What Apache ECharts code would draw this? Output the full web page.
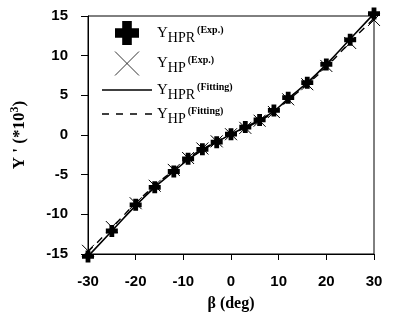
<!DOCTYPE html>
<html>
<head>
<meta charset="utf-8">
<script src="https://cdn.jsdelivr.net/npm/echarts@6/dist/echarts.min.js"></script>
<style>
  html, body { margin: 0; padding: 0; background: #fff; }
  #chart { width: 393px; height: 317px; }
</style>
</head>
<body>
<div id="chart"></div>
<script>
// beta (deg) where the samples were taken
var beta = [-30, -25, -20, -16, -12, -9, -6, -3, 0, 3, 6, 9, 12, 16, 20, 25, 30]
// Y' (*10^3)
var hprExp = [-15.3, -12.1, -8.8, -6.6, -4.6, -3.0, -1.8, -0.9, 0.1, 1.0, 1.9, 3.1, 4.7, 6.6, 8.9, 12.0, 15.3]
var hpExp = [-14.6, -11.6, -8.6, -6.4, -4.4, -2.9, -1.7, -0.8, 0.1, 0.9, 1.8, 2.9, 4.5, 6.4, 8.7, 11.6, 14.5]
var hprFit = [-15.3, -12.1, -8.9, -6.6, -4.6, -3.1, -1.9, -0.9, 0.1, 1.0, 1.9, 3.0, 4.6, 6.6, 8.9, 12.1, 15.3]
var hpFit = [-14.7, -11.7, -8.6, -6.4, -4.4, -2.9, -1.8, -0.8, 0.1, 0.9, 1.8, 2.9, 4.4, 6.4, 8.6, 11.7, 14.7]
var xTicks = [-30, -20, -10, 0, 10, 20, 30]
var yTicks = [-15, -10, -5, 0, 5, 10, 15]

var plusPath = 'path://M3,0H7V3H10V7H7V10H3V7H0V3H3Z'
var crossPath = 'path://M0,0L10,10M10,0L0,10'
var solidIcon = 'path://M0,0H50V1.4H0Z'
var dashIcon = 'path://M0,0H7V1.4H0Z M14,0H21V1.4H14Z M28,0H35V1.4H28Z M43,0H50V1.4H43Z'

function pairs(ys) {
  return beta.map(function (b, i) { return [b, ys[i]] })
}

var labelFont = { fontFamily: 'Liberation Sans', fontWeight: 'bold', fontSize: 15, color: '#000' }
var serif = 'Liberation Serif'

var chart = echarts.init(document.getElementById('chart'))
chart.setOption({
  animation: false,
  grid: { left: 88, right: 19, top: 16, bottom: 62, show: true, borderColor: '#000', borderWidth: 1 },
  legend: {
    orient: 'vertical',
    left: 97,
    top: 16,
    itemWidth: 50,
    itemHeight: 24,
    itemGap: 4,
    inactiveColor: '#000',
    data: [
      { name: 'HPR (Exp.)', icon: plusPath, itemStyle: { color: '#000', opacity: 1 } },
      { name: 'HP (Exp.)', icon: crossPath, itemStyle: { color: 'none', borderColor: '#000', borderWidth: 0.8, opacity: 1 } },
      { name: 'HPR (Fitting)', icon: solidIcon, itemStyle: { color: '#000', opacity: 1 } },
      { name: 'HP (Fitting)', icon: dashIcon, itemStyle: { color: '#000', opacity: 1 } }
    ],
    formatter: function (name) {
      var parts = name.split(' ')
      return '{y|Y}{sub|' + parts[0] + '}{sup|' + parts[1] + '}'
    },
    textStyle: {
      rich: {
        y: { fontFamily: serif, fontSize: 15, color: '#000' },
        sub: { fontFamily: serif, fontSize: 14, color: '#000', padding: [10, 0, 0, 0] },
        sup: { fontFamily: serif, fontSize: 10, fontWeight: 'bold', color: '#000', padding: [0, 0, 6, 2] }
      }
    }
  },
  xAxis: {
    type: 'value',
    min: -30, max: 30, interval: 10,
    name: 'β (deg)',
    nameLocation: 'middle',
    nameGap: 42,
    nameTextStyle: { fontFamily: serif, fontWeight: 'bold', fontSize: 16, color: '#000' },
    axisLine: { onZero: false, lineStyle: { color: '#000' } },
    axisTick: { inside: false, length: 6, lineStyle: { color: '#000' } },
    splitLine: { show: false },
    axisLabel: Object.assign({ margin: 20, formatter: function (v) { return xTicks.indexOf(v) >= 0 ? v : '' } }, labelFont)
  },
  yAxis: {
    type: 'value',
    min: -15, max: 15, interval: 5,
    name: "Y ' (*10{s|3})",
    nameLocation: 'middle',
    nameGap: 58,
    nameTextStyle: {
      fontFamily: serif, fontWeight: 'bold', fontSize: 17, color: '#000',
      rich: { s: { fontFamily: serif, fontWeight: 'bold', fontSize: 12, color: '#000', padding: [0, 0, 9, 0] } }
    },
    axisLine: { onZero: false, lineStyle: { color: '#000' } },
    axisTick: { inside: false, length: 7, lineStyle: { color: '#000' } },
    splitLine: { show: false },
    axisLabel: Object.assign({ margin: 20, formatter: function (v) { return yTicks.indexOf(v) >= 0 ? v : '' } }, labelFont)
  },
  series: [
    {
      name: 'HPR (Fitting)', type: 'line', smooth: true, symbol: 'none', clip: false,
      lineStyle: { color: '#000', width: 1.6 }, itemStyle: { color: '#000' },
      data: pairs(hprFit), z: 3
    },
    {
      name: 'HP (Fitting)', type: 'line', smooth: true, symbol: 'none', clip: false,
      lineStyle: { color: '#000', width: 1.4, type: [7, 6] }, itemStyle: { color: '#000' },
      data: pairs(hpFit), z: 3
    },
    {
      name: 'HP (Exp.)', type: 'scatter', symbol: crossPath, symbolSize: 12, clip: false,
      itemStyle: { color: 'none', borderColor: '#000', borderWidth: 1, opacity: 1 },
      data: pairs(hpExp), z: 4
    },
    {
      name: 'HPR (Exp.)', type: 'scatter', symbol: plusPath, symbolSize: 12, clip: false,
      itemStyle: { color: '#000', opacity: 1 },
      data: pairs(hprExp), z: 5
    }
  ]
})
</script>
</body>
</html>
